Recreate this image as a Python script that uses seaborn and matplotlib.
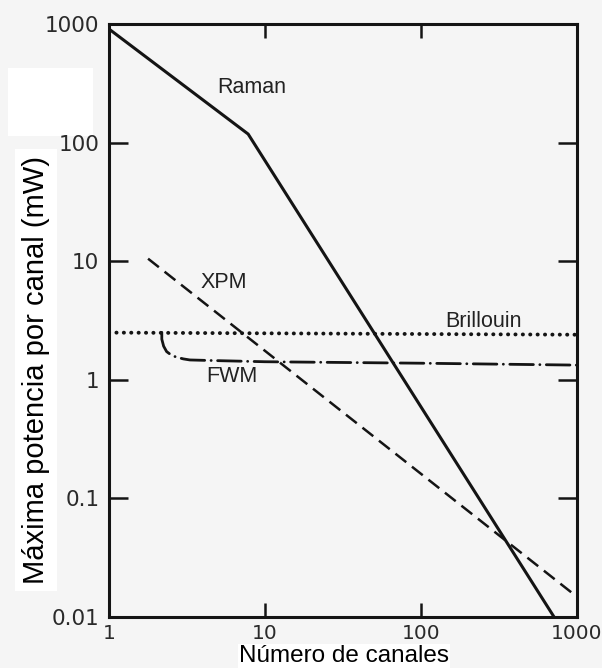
import matplotlib
matplotlib.use("Agg")
import matplotlib.pyplot as plt
import seaborn as sns
import pandas as pd
from matplotlib.patches import Rectangle
from matplotlib.ticker import FixedLocator, FixedFormatter, NullLocator

# ---- data ----
raman_x = [1, 7.8, 713]
raman_y = [907, 118, 0.01]

xpm_x = [1.78, 1000]
xpm_y = [10.5, 0.0148]

brillouin_x = [1, 1000]
brillouin_y = [2.5, 2.4]

fwm_x = [2.18, 2.18, 2.24, 2.34, 2.5, 2.71, 3.0, 3.3, 4.0, 10, 100, 1000]
fwm_y = [2.51, 2.2, 1.92, 1.73, 1.62, 1.55, 1.5, 1.47, 1.46, 1.42, 1.38, 1.33]

x_ticks = [1, 10, 100, 1000]
x_ticklabels = ["1", "10", "100", "1000"]
y_ticks = [0.01, 0.1, 1, 10, 100, 1000]
y_ticklabels = ["0.01", "0.1", "1", "10", "100", "1000"]

labels = {"Raman": (8.26, 294), "XPM": (5.46, 6.55),
          "Brillouin": (250, 3.13), "FWM": (6.14, 1.06)}

x_title = "Número de canales"
y_title = "Máxima potencia por canal (mW)"

# ---- style ----
sns.set_style("ticks")
plt.rcParams["font.family"] = ["DejaVu Sans"]
bg = "#f5f5f5"
ink = "#141414"

fig = plt.figure(figsize=(6.02, 6.68), dpi=100, facecolor=bg)
ax = fig.add_axes([109 / 602, 1 - 617 / 668, 468 / 602, 593 / 668])
ax.set_facecolor(bg)

# white pasted patch (artifact in the reference)
fig.patches.append(Rectangle((8 / 602, 1 - 136 / 668), 85 / 602, 68 / 668,
                             transform=fig.transFigure, facecolor="white",
                             edgecolor="none", zorder=-5))

def draw(xs, ys, ls, lw, cap="butt"):
    df = pd.DataFrame({"x": xs, "y": ys})
    sns.lineplot(data=df, x="x", y="y", ax=ax, color=ink, estimator=None,
                 sort=False, linewidth=lw)
    ln = ax.lines[-1]
    ln.set_linestyle(ls)
    ln.set_dash_capstyle(cap)
    ln.set_solid_capstyle("round")
    return ln

draw(raman_x, raman_y, "-", 2.2)
draw(xpm_x, xpm_y, (0, (5.5, 2.9)), 1.8)
draw(brillouin_x, brillouin_y, (0, (0.05, 1.85)), 2.8, cap="round")
draw(fwm_x, fwm_y, (0, (8.5, 2.3, 0.05, 2.3)), 2.0, cap="round")

ax.set_xscale("log")
ax.set_yscale("log")
ax.set_xlim(1, 1000)
ax.set_ylim(0.01, 1000)

ax.xaxis.set_major_locator(FixedLocator(x_ticks))
ax.xaxis.set_major_formatter(FixedFormatter(x_ticklabels))
ax.xaxis.set_minor_locator(NullLocator())
ax.yaxis.set_major_locator(FixedLocator(y_ticks))
ax.yaxis.set_major_formatter(FixedFormatter(y_ticklabels))
ax.yaxis.set_minor_locator(NullLocator())

for s in ax.spines.values():
    s.set_linewidth(2.2)
    s.set_color(ink)
    s.set_visible(True)

ax.tick_params(axis="x", which="major", direction="in", length=10, width=1.8,
               top=True, bottom=True, color=ink, labelsize=14.5, pad=5,
               labelcolor="#2a2a2a")
ax.tick_params(axis="y", which="major", direction="in", length=14, width=1.8,
               left=True, right=True, color=ink, labelsize=15.5, pad=7,
               labelcolor="#2a2a2a")

for name, (tx, ty) in labels.items():
    ax.text(tx, ty, name, ha="center", va="center", fontsize=15.5,
            family=["Liberation Sans", "DejaVu Sans"], color="#222222")

ax.set_xlabel(x_title, fontsize=17.5, family=["Liberation Sans", "DejaVu Sans"],
              color="black",
              bbox=dict(facecolor="white", edgecolor="none", pad=1))
ax.xaxis.set_label_coords((344 - 109) / 468, (11.5 - 51) / 593)
ax.xaxis.label.set_va("center")

ax.set_ylabel(y_title, fontsize=21, family=["Liberation Sans", "DejaVu Sans"],
              color="black",
              bbox=dict(facecolor="white", edgecolor="none", pad=5))
ax.yaxis.set_label_coords((36 - 109) / 468, (617 - 370) / 593)
ax.yaxis.label.set_va("center")

fig.savefig("out.png", dpi=100, facecolor=bg)
